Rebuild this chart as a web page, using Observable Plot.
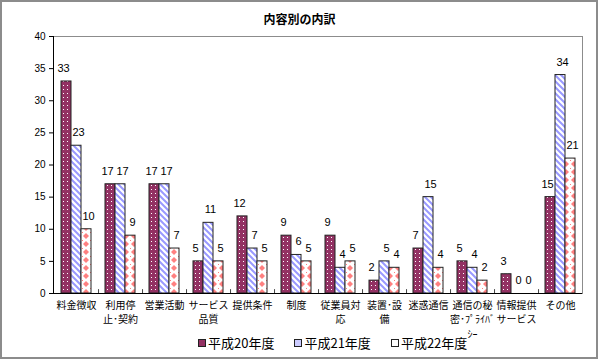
<!DOCTYPE html>
<html>
<head>
<meta charset="utf-8">
<script src="https://cdn.jsdelivr.net/npm/d3@7"></script>
<script src="https://cdn.jsdelivr.net/npm/@observablehq/plot@0.6"></script>
<style>
  html, body { margin: 0; padding: 0; background: #fff; }
  #wrap { position: relative; width: 599px; height: 360px; overflow: hidden; font-family: "Liberation Sans", "Noto Sans CJK JP", sans-serif; }
  #border { position: absolute; left: 0; top: 0; width: 598px; height: 359px; box-sizing: border-box; border: 2px solid #8c8c8c; pointer-events: none; }
  #title { position: absolute; top: 11px; left: 0; width: 599px; text-align: center; font-size: 12px; font-weight: bold; font-family: "Noto Sans CJK JP", sans-serif; line-height: 16px; }
  #legend { position: absolute; top: 335px; left: 198px; display: flex; font-family: "Noto Sans CJK JP", sans-serif; font-size: 13px; line-height: 16px; }
  .item { display: flex; align-items: center; margin-right: 20px; }
  .sw { width: 6px; height: 6px; border: 1px solid #222; margin-right: 2px; }
  #chart svg { display: block; }
</style>
</head>
<body>
<svg width="0" height="0" style="position:absolute">
  <defs>
    <pattern id="p20" width="4" height="4" patternUnits="userSpaceOnUse">
      <rect width="4" height="4" fill="#933163"/>
      <rect x="1" y="1" width="1" height="1" fill="#fff"/>
    </pattern>
    <pattern id="p21" width="6" height="6" patternUnits="userSpaceOnUse">
      <rect width="6" height="6" fill="#fff"/>
      <path d="M-1,-1 L7,7 M-1,5 L1,7 M5,-1 L7,1" stroke="#9999ff" stroke-width="2"/>
    </pattern>
    <pattern id="p22" width="8" height="8" patternUnits="userSpaceOnUse">
      <rect width="8" height="8" fill="#fff"/>
      <path d="M4,1 L7,4 L4,7 L1,4 Z" fill="#ff8080"/>
      <rect x="0" y="0" width="1" height="1" fill="#ff8080"/>
    </pattern>
  </defs>
</svg>
<div id="wrap">
  <div id="chart"></div>
  <div id="title">内容別の内訳</div>
  <div id="legend"></div>
  <div id="border"></div>
</div>
<script>
const categories = ["料金徴収", "利用停止・契約", "営業活動", "サービス品質", "提供条件", "制度", "従業員対応", "装置・設備", "迷惑通信", "通信の秘密・プライバシー", "情報提供サービス", "その他"];
const tickLabels = ["料金徴収", "利用停\n止･契約", "営業活動", "サービス\n品質", "提供条件", "制度", "従業員対\n応", "装置･設\n備", "迷惑通信", "通信の秘\n密･ﾌﾟﾗｲﾊﾞ\nｼｰ", "情報提供\nサービス", "その他"];
const seriesNames = ["平成20年度", "平成21年度", "平成22年度"];
const h20 = [33, 17, 17, 5, 12, 9, 9, 2, 7, 5, 3, 15];
const h21 = [23, 17, 17, 11, 7, 6, 4, 5, 15, 4, 0, 34];
const h22 = [10, 9, 7, 5, 5, 5, 5, 4, 4, 2, 0, 21];
const yTicks = [0, 5, 10, 15, 20, 25, 30, 35, 40];

const fills = ["url(#p20)", "url(#p21)", "url(#p22)"];
const swatchColors = ["#933163", "#ccccff", "#ffffff"];
const seriesValues = [h20, h21, h22];

const W = 599, H = 360, mL = 53, mR = 17, mT = 36, mB = 67;
const step = (W - mL - mR) / categories.length;
const barW = 10;
const pIn = 1 - barW / step;
const labelDx = [-13, 2, 12];

const rows = seriesValues.map((vals, s) => categories.map((c, i) => ({cat: c, value: vals[i], s})));
const labelMap = new Map(categories.map((c, i) => [c, tickLabels[i]]));

const marks = [
  Plot.frame({stroke: "#8c8c8c"}),
  ...rows.map((r, s) => Plot.barY(r, {x: "cat", y: "value", dx: (s - 1) * barW, fill: fills[s], stroke: "#222", strokeWidth: 1})),
  ...rows.map((r, s) => Plot.text(r, {x: "cat", y: "value", text: d => String(d.value), dx: labelDx[s], dy: -13, fontSize: 11, fill: "#000"})),
  Plot.ruleX(categories.slice(0, -1), {dx: step / 2, y1: 0, y2: 0.6, stroke: "#444"}),
  Plot.text(categories, {x: d => d, text: d => labelMap.get(d), frameAnchor: "bottom", lineAnchor: "top", dy: 5, lineHeight: 1.45, fontSize: 10, fill: "#000", fontFamily: "Noto Sans CJK JP, sans-serif"}),
  Plot.frame({anchor: "left", stroke: "#000"}),
  Plot.ruleY([0], {stroke: "#000"}),
  Plot.axisY({ticks: yTicks, tickSize: 4, tickPadding: 4, fontSize: 10, label: null, stroke: "#000"})
];

const chart = Plot.plot({
  width: W, height: H,
  marginLeft: mL, marginRight: mR, marginTop: mT, marginBottom: mB,
  style: {fontFamily: "Liberation Sans, Noto Sans CJK JP, sans-serif", fontSize: "11px", color: "#000", background: "transparent"},
  x: {domain: categories, paddingInner: pIn, paddingOuter: pIn / 2, axis: null},
  y: {domain: [0, 40], axis: null},
  marks
});
document.getElementById("chart").appendChild(chart);

const legend = document.getElementById("legend");
seriesNames.forEach((n, i) => {
  const it = document.createElement("div");
  it.className = "item";
  const sw = document.createElement("div");
  sw.className = "sw";
  sw.style.background = swatchColors[i];
  it.appendChild(sw);
  const t = document.createElement("span");
  t.textContent = n;
  it.appendChild(t);
  legend.appendChild(it);
});
</script>
</body>
</html>
